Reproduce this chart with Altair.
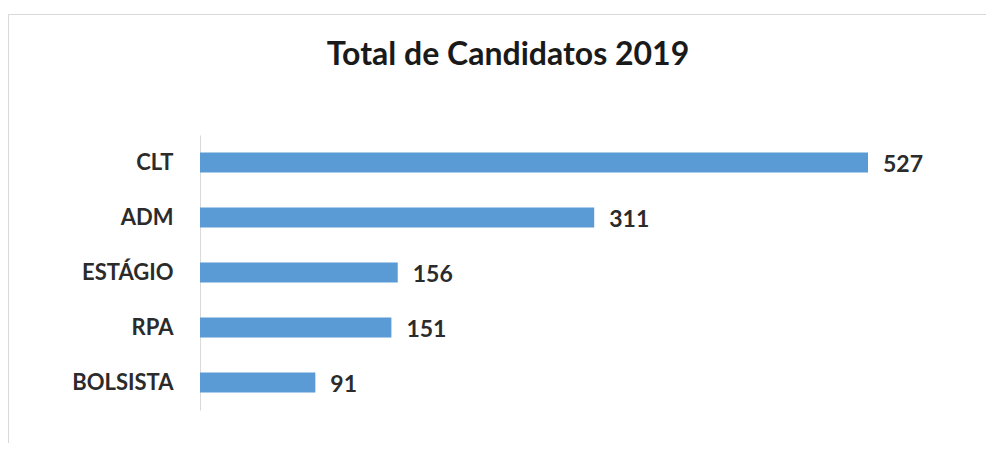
import altair as alt
import pandas as pd

categories = ["CLT", "ADM", "ESTÁGIO", "RPA", "BOLSISTA"]
values = [527, 311, 156, 151, 91]
title_text = "Total de Candidatos 2019"

df = pd.DataFrame({"cat": categories, "val": values})
FONT = "Lato"

y_enc = alt.Y("cat:N", sort=categories, title=None,
              scale=alt.Scale(paddingInner=0.636, paddingOuter=0.318),
              axis=alt.Axis(labelFont=FONT, labelFontWeight="bold", labelFontSize=22,
                            labelColor="#2b2b2b", labelPadding=27, ticks=False,
                            domainColor="#d9d9d9", domainWidth=1, grid=False))
x_enc = alt.X("val:Q", title=None, scale=alt.Scale(domain=[0, 527], nice=False, zero=True),
              axis=None)

bars = alt.Chart(df).mark_bar(color="#5B9BD5").encode(x=x_enc, y=y_enc)
labels = alt.Chart(df).mark_text(align="left", baseline="middle", dx=15, dy=2, font=FONT,
                                 fontWeight="bold", fontSize=23, color="#2b2b2b").encode(
    x=x_enc, y=alt.Y("cat:N", sort=categories), text="val:Q")

border = alt.Chart(pd.DataFrame({"a": [0]})).mark_rect(
    fill="transparent", stroke="#d9d9d9", strokeWidth=1).encode(
    x=alt.value(-191.5), x2=alt.value(2000), y=alt.value(-120.5), y2=alt.value(2000))

chart = alt.layer(border, bars, labels).properties(
    width=668, height=275,
    title=alt.TitleParams(title_text, font=FONT, fontSize=32, fontWeight="bold",
                          color="#1a1a1a", anchor="middle", frame="group",
                          baseline="alphabetic", dx=-26, offset=-83),
    autosize=alt.AutoSizeParams(type="none"),
    padding={"left": 192, "top": 127, "right": 118, "bottom": 33},
).configure_view(stroke=None)

chart.save("out.html", embed_options={"renderer": "svg", "actions": False})
